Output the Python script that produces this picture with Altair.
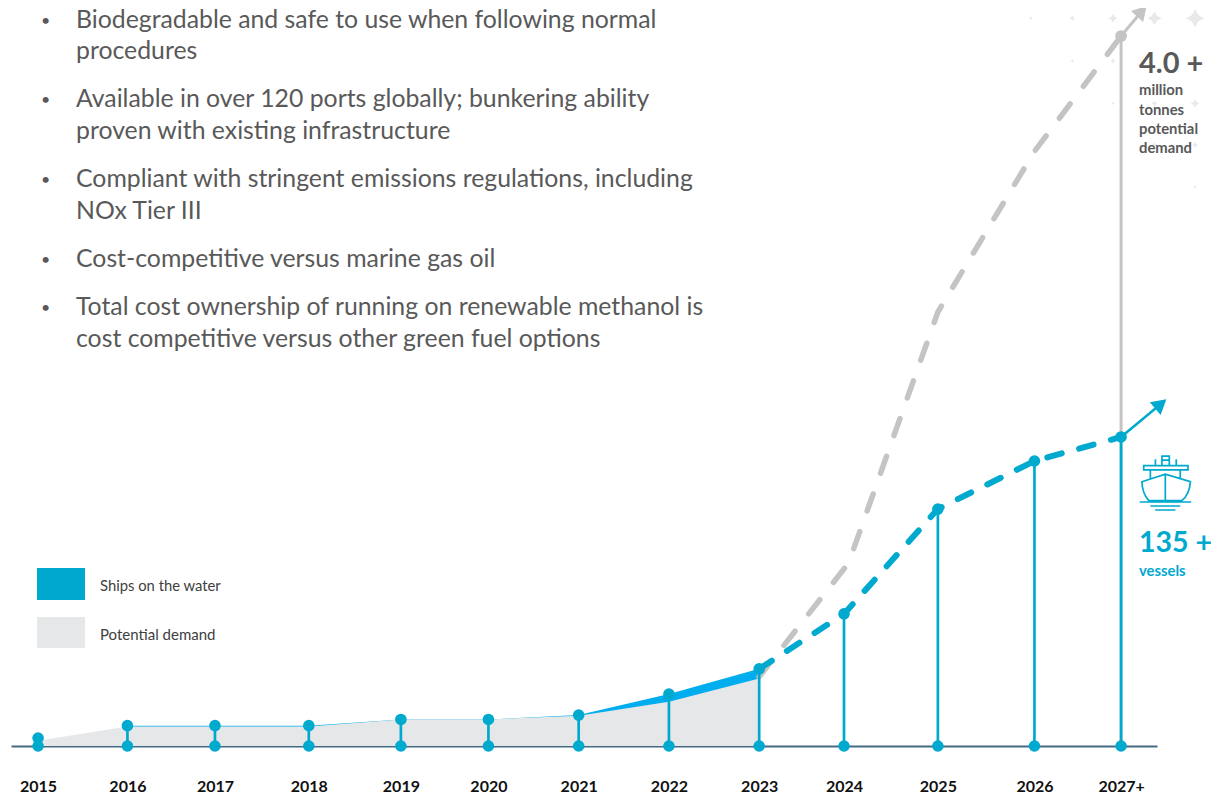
import altair as alt
import pandas as pd

# ---------- values ----------
year_pos = [2015.0, 2015.99, 2016.96, 2018.0, 2019.02, 2019.99, 2020.99, 2021.99, 2022.99, 2023.93, 2024.97, 2026.04, 2027.0]
vessels = [3.5, 8.9, 8.9, 8.9, 11.6, 11.6, 13.5, 22.7, 33.7, 57.7, 103.5, 124.5, 135]
demand_pos = [2015.0, 2015.99, 2016.96, 2018.0, 2019.02, 2019.99, 2020.99, 2021.99, 2022.99]
demand_mt = [0.03, 0.11, 0.11, 0.11, 0.15, 0.15, 0.17, 0.25, 0.38]
forecast_pos = [2022.99, 2023.98, 2024.97, 2026.04, 2027.0]
forecast_mt = [0.39, 1.03, 2.445, 3.35, 4.0]
ships_arrow_x = [2027.0, 2027.44]
ships_arrow_y = [135, 149.4]
demand_arrow_x = [2027.0, 2027.23]
demand_arrow_y = [4.0, 4.14]
star_x = [2026.0, 2026.46, 2026.91, 2027.37, 2027.82, 2026.46, 2026.91, 2026.91, 2027.37, 2027.82, 2027.37, 2027.82, 2027.82]
star_y = [4.10, 4.10, 4.10, 4.10, 4.10, 3.86, 3.86, 3.62, 3.62, 3.62, 3.386, 3.386, 3.15]
star_s = [16, 36, 80, 200, 330, 16, 30, 12, 36, 80, 30, 36, 12]

bullets = [
    ("Biodegradable and safe to use when following normal", True, 20.6),
    ("procedures", False, 52),
    ("Available in over 120 ports globally; bunkering ability", True, 100),
    ("proven with existing infrastructure", False, 132),
    ("Compliant with stringent emissions regulations, including", True, 180),
    ("NOx Tier III", False, 212),
    ("Cost-competitive versus marine gas oil", True, 260),
    ("Total cost ownership of running on renewable methanol is", True, 308),
    ("cost competitive versus other green fuel options", False, 340),
]
ship_path = ("M-0.875,-0.06 L0,-0.34 L0.94,-0.06 C0.92,0.25 0.8,0.5 0.62,0.65 L-0.62,0.65 C-0.75,0.5 -0.87,0.25 -0.875,-0.06 Z "
             "M0,-0.34 L0,0.65 M-0.96,0.7 L0.97,0.7 M-0.56,0.85 L0.56,0.85 M-0.38,1 L0.38,1 "
             "M-0.81,-0.66 L0.85,-0.66 L0.85,-0.5 L-0.81,-0.5 Z M-0.56,-0.5 L-0.56,-0.19 M0.56,-0.5 L0.56,-0.19 "
             "M-0.37,-0.9 L-0.37,-0.66 M0.41,-0.9 L0.41,-0.66 "
             "M-0.125,-0.66 L-0.125,-1.02 L0.15,-1.02 L0.15,-0.66 M-0.125,-0.87 L0.15,-0.87")

# ---------- styles ----------
BLUE = "#00a9ce"
BAND = "#00aeef"
GREY_AREA = "#e6e7e8"
GREY_LINE = "#c4c4c4"
TEXT = "#595959"
FONT = "Lato"

x_scale = alt.Scale(domain=[2014.7, 2027.398], nice=False, zero=False)
ship_scale = alt.Scale(domain=[0, 322.4], nice=False, zero=False)
mt_scale = alt.Scale(domain=[0, 4.158], nice=False, zero=False)

ticks = alt.Axis(
    values=year_pos, title=None, grid=False, ticks=False, orient="bottom",
    domainColor="#456a85", domainWidth=2, labelFont=FONT, labelFontWeight="bold",
    labelFontSize=16, labelColor="#111111", labelPadding=40, labelFlush=False,
    labelOverlap=False, labelBaseline="middle",
    labelExpr="round(datum.value) == 2027 ? '2027+' : format(round(datum.value), 'd')",
)
X = alt.X("x:Q", scale=x_scale, axis=ticks)
Y_S = alt.Y("y:Q", scale=ship_scale, axis=None)
Y_M = alt.Y("y:Q", scale=mt_scale, axis=None)

ships = pd.DataFrame({"x": year_pos, "y": vessels, "base": 0})
ships_actual = ships.iloc[1:9]
ships_plan = ships.iloc[8:]
demand = pd.DataFrame({"x": demand_pos, "y": demand_mt})
forecast = pd.DataFrame({"x": forecast_pos, "y": forecast_mt})
stars = pd.DataFrame({"x": star_x, "y": star_y, "s": star_s})

star_layer = alt.Chart(stars).mark_point(shape="M0,-1 L0.35,-0.35 L1,0 L0.35,0.35 L0,1 L-0.35,0.35 L-1,0 L-0.35,-0.35 Z", filled=True, color="#e9e9e9", opacity=1).encode(
    x=X, y=Y_M, size=alt.Size("s:Q", scale=None, legend=None))
band = alt.Chart(ships_actual).mark_area(color=BAND, opacity=1).encode(x=X, y=Y_S)
grey_area = alt.Chart(demand).mark_area(color=GREY_AREA, opacity=1).encode(x=X, y=Y_M)
grey_dash = alt.Chart(forecast).mark_line(color=GREY_LINE, strokeWidth=5.5, strokeDash=[18, 22], strokeCap="round").encode(x=X, y=Y_M)
grey_rule = alt.Chart(pd.DataFrame({"x": [2027.0], "y": [4.0], "base": [0]})).mark_rule(color=GREY_LINE, strokeWidth=3).encode(
    x=X, y=Y_M, y2="base:Q")
grey_arrow = alt.Chart(pd.DataFrame({"x": demand_arrow_x, "y": demand_arrow_y})).mark_line(color=GREY_LINE, strokeWidth=3).encode(x=X, y=Y_M)
grey_head = alt.Chart(pd.DataFrame({"x": demand_arrow_x[1:], "y": demand_arrow_y[1:]})).mark_point(
    shape="triangle-up", filled=True, color=GREY_LINE, opacity=1, size=270, angle=42).encode(x=X, y=Y_M)
grey_dot = alt.Chart(pd.DataFrame({"x": [2027.0], "y": [4.0]})).mark_circle(color=GREY_LINE, opacity=1, size=140).encode(x=X, y=Y_M)

stems = alt.Chart(ships).mark_rule(color=BLUE, strokeWidth=2.7).encode(x=X, y=Y_S, y2="base:Q")
blue_dash = alt.Chart(ships_plan).mark_line(color=BLUE, strokeWidth=6, strokeDash=[15, 18], strokeCap="round").encode(x=X, y=Y_S)
blue_arrow = alt.Chart(pd.DataFrame({"x": ships_arrow_x, "y": ships_arrow_y})).mark_line(color=BLUE, strokeWidth=2.5).encode(x=X, y=Y_S)
blue_head = alt.Chart(pd.DataFrame({"x": ships_arrow_x[1:], "y": ships_arrow_y[1:]})).mark_point(
    shape="triangle-up", filled=True, color=BLUE, opacity=1, size=280, angle=50).encode(x=X, y=Y_S)
top_dots = alt.Chart(ships).mark_circle(color=BLUE, opacity=1, size=135).encode(x=X, y=Y_S)
base_dots = alt.Chart(ships).mark_circle(color=BLUE, opacity=1, size=135).encode(x=X, y=alt.Y("base:Q", scale=ship_scale, axis=None))
ship_icon = alt.Chart(pd.DataFrame({"x": [2027.49], "y": [1.48]})).mark_point(
    shape=ship_path, filled=False, color=BLUE, opacity=1, size=2850, strokeWidth=1.7).encode(x=X, y=Y_M)

OX, OY = 11, 8  # plot origin on the page

def label(text, px, py, size, color=TEXT, weight="normal", align="left"):
    return alt.Chart(pd.DataFrame({"t": [text]})).mark_text(
        font=FONT, fontSize=size, color=color, fontWeight=weight, align=align, baseline="middle"
    ).encode(x=alt.value(px - OX), y=alt.value(py - OY), text="t:N")

def swatch(color, x0, x1, y0, y1):
    return alt.Chart(pd.DataFrame({"t": [0]})).mark_rect(color=color, opacity=1).encode(
        x=alt.value(x0 - OX), x2=alt.value(x1 - OX), y=alt.value(y0 - OY), y2=alt.value(y1 - OY))

texts = []
for line, has_bullet, py in bullets:
    texts.append(label(line, 76, py, 24.8))
    if has_bullet:
        texts.append(label("•", 41, py, 16))
texts += [
    label("4.0 +", 1139, 64, 29, weight="bold"),
    label("million", 1139, 91, 14.8, weight="bold"),
    label("tonnes", 1139, 111, 14.8, weight="bold"),
    label("potential", 1139, 130, 14.8, weight="bold"),
    label("demand", 1139, 149, 14.8, weight="bold"),
    label("135 +", 1139, 543, 28.5, color=BLUE, weight="bold"),
    label("vessels", 1139, 572, 14.8, color=BLUE, weight="bold"),
    label("Ships on the water", 100, 587, 14.8, color="#404040"),
    label("Potential demand", 100, 635, 15, color="#404040"),
    swatch("#00a8d0", 37, 85, 568, 600),
    swatch(GREY_AREA, 37, 85, 617, 648),
]

chart = alt.layer(
    star_layer, band, grey_area, grey_dash, grey_rule, grey_arrow, grey_head, grey_dot,
    stems, blue_dash, blue_arrow, blue_head, top_dots, base_dots, ship_icon, *texts
).resolve_scale(y="independent").properties(
    width=1146, height=738,
    padding={"left": 3, "top": 0, "right": 54, "bottom": 49},
    autosize=alt.AutoSizeParams(type="none"),
).configure_view(stroke=None)

chart.save("out.html", embed_options={"renderer": "svg", "actions": False})
